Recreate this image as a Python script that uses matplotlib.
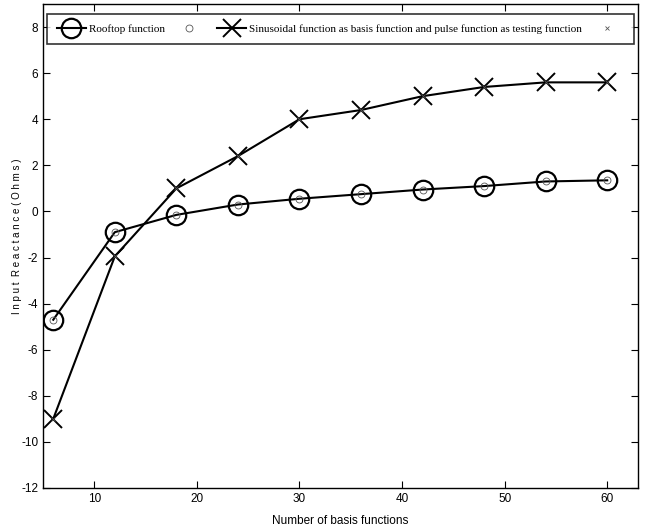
import matplotlib
matplotlib.use("Agg")
import matplotlib.pyplot as plt

plt.rcParams["axes.unicode_minus"] = False

n_basis = [6, 12, 18, 24, 30, 36, 42, 48, 54, 60]
rooftop = [-4.7, -0.9, -0.15, 0.3, 0.55, 0.75, 0.95, 1.1, 1.3, 1.35]
sinusoidal = [-9.0, -1.95, 1.0, 2.4, 4.0, 4.4, 5.0, 5.4, 5.6, 5.6]
xticks = [10, 20, 30, 40, 50, 60]
yticks = [-12, -10, -8, -6, -4, -2, 0, 2, 4, 6, 8]
label_rooftop = "Rooftop function"
label_sin = "Sinusoidal function as basis function and pulse function as testing function"

fig = plt.figure(figsize=(6.46, 5.32), dpi=100)
ax = fig.add_axes([43/646, 1-488/532, (638-43)/646, (488-4)/532])

l1, = ax.plot(n_basis, rooftop, color="black", lw=1.5, marker="o", ms=14,
              mfc="none", mec="black", mew=1.6)
s1, = ax.plot(n_basis, rooftop, ls="none", marker="o", ms=5, mfc="none",
              mec="#555555", mew=0.6)
l2, = ax.plot(n_basis, sinusoidal, color="black", lw=1.5, marker="x", ms=13,
              mec="black", mew=1.4)
s2, = ax.plot(n_basis, sinusoidal, ls="none", marker="x", ms=3, mec="#555555", mew=0.6)

ax.set_xlim(5, 63)
ax.set_ylim(-12, 9)
ax.set_xticks(xticks)
ax.set_yticks(yticks)
ax.tick_params(direction="in", top=True, right=True, length=5, width=0.8,
               labelsize=8.5)
for lab in ax.get_xticklabels() + ax.get_yticklabels():
    lab.set_fontfamily("Liberation Sans")
for sp in ax.spines.values():
    sp.set_linewidth(1.0)

ax.set_xlabel("Number of basis functions", fontfamily="Liberation Sans", fontsize=8.5)
ax.xaxis.set_label_coords(0.5, -0.055)
ax.set_ylabel("I n p u t  R e a c t a n c e ( O h m s )", fontfamily="Liberation Sans",
              fontsize=7)
ax.yaxis.set_label_coords(-21/595, 0.52)

leg = ax.legend([l1, s1, l2, s2], [label_rooftop, "", label_sin, ""], ncol=4,
                loc="upper center", bbox_to_anchor=(0.5, 0.979),
                borderaxespad=0,
                prop={"family": "Liberation Serif", "size": 8},
                frameon=True, fancybox=False, edgecolor="black",
                handlelength=2.6, columnspacing=0.9, handletextpad=0.3,
                borderpad=0.9)
leg.get_frame().set_linewidth(1.2)

fig.savefig("out.png", dpi=100)
